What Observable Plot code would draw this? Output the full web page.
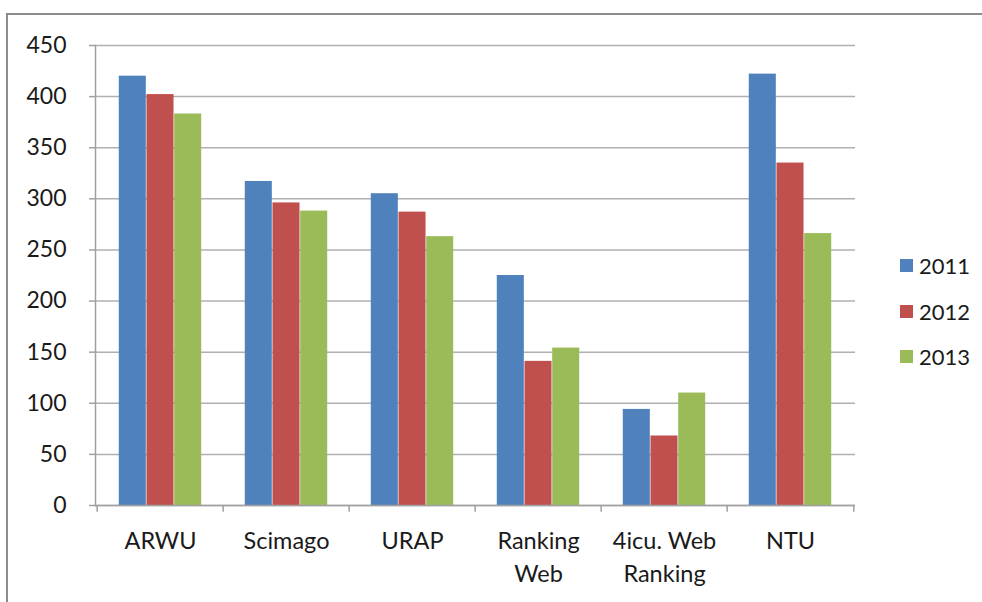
<!DOCTYPE html>
<html>
<head>
<meta charset="utf-8">
<script src="https://cdn.jsdelivr.net/npm/d3@7"></script>
<script src="https://cdn.jsdelivr.net/npm/@observablehq/plot@0.6"></script>
<style>
  html, body { margin: 0; padding: 0; background: #fff; }
  #wrap { position: relative; width: 982px; height: 602px; overflow: hidden; font-family: Lato, "Open Sans", sans-serif; }
  #border { position: absolute; left: 6px; top: 13px; width: 1000px; height: 700px; border-left: 2px solid #8c8c8c; border-top: 2px solid #8c8c8c; }
  #chart { position: absolute; left: 0; top: 0; }
  #legend { position: absolute; left: 900px; top: 243px; }
  .item { display: flex; align-items: center; height: 45.5px; font-size: 22px; color: #1a1a1a; }
  .sw { width: 13px; height: 13px; margin-right: 6px; }
</style>
</head>
<body>
<div id="wrap">
  <div id="border"></div>
  <div id="chart"></div>
  <div id="legend"></div>
</div>
<script>
const categories = ["ARWU", "Scimago", "URAP", "Ranking Web", "4icu. Web Ranking", "NTU"];
const tickLabels = ["ARWU", "Scimago", "URAP", "Ranking\nWeb", "4icu. Web\nRanking", "NTU"];
const years = ["2011", "2012", "2013"];
const values2011 = [420, 317, 305, 225, 94, 422];
const values2012 = [402, 296, 287, 141, 68, 335];
const values2013 = [383, 288, 263, 154, 110, 266];
const colors = ["#4F81BD", "#C0504D", "#9BBB59"];
const yTicks = [0, 50, 100, 150, 200, 250, 300, 350, 400, 450];

const series = [values2011, values2012, values2013];
const rows = years.map((y, j) => categories.map((c, i) => ({category: c, year: y, value: series[j][i]})));

const W = 982, H = 602, mL = 95, mR = 127, mT = 45, mB = 97;
const step = (W - mL - mR) / categories.length;
const barW = 27.7;
const labelMap = new Map(categories.map((c, i) => [c, tickLabels[i]]));

const barMarks = rows.map((data, j) => Plot.barY(data, {
  x: "category", y: "value", fill: colors[j],
  insetLeft: (step - barW) / 2, insetRight: (step - barW) / 2,
  dx: (j - 1) * barW
}));

const chart = Plot.plot({
  width: W, height: H,
  marginLeft: mL, marginRight: mR, marginTop: mT, marginBottom: mB,
  style: {fontFamily: "Lato, 'Open Sans', sans-serif", background: "transparent"},
  x: {type: "band", domain: categories, padding: 0},
  y: {domain: [0, 450]},
  marks: [
    Plot.ruleY(yTicks, {y: d => d, stroke: "#b0b0b0", strokeWidth: 1.5}),
    ...barMarks,
    Plot.ruleY([0], {stroke: "#a0a0a0", strokeWidth: 1.5}),
    Plot.frame({anchor: "left", stroke: "#a0a0a0", strokeWidth: 1.5}),
    Plot.ruleX(categories, {x: d => d, dx: -step / 2, y1: 0, y2: -6.5, stroke: "#a0a0a0", strokeWidth: 1.5}),
    Plot.ruleX(categories.slice(-1), {x: d => d, dx: step / 2, y1: 0, y2: -6.5, stroke: "#a0a0a0", strokeWidth: 1.5}),
    Plot.axisY({ticks: yTicks, tickSize: 6, tickPadding: 23, fontSize: 23, stroke: "#a0a0a0", strokeWidth: 1.5, color: "#1a1a1a", label: null}),
    Plot.axisX({tickSize: 0, tickPadding: 20, fontSize: 23.5, lineHeight: 1.4, tickFormat: d => labelMap.get(d), color: "#1a1a1a", label: null})
  ]
});
document.getElementById("chart").appendChild(chart);

const legend = document.getElementById("legend");
years.forEach((y, j) => {
  const row = document.createElement("div");
  row.className = "item";
  const sw = document.createElement("div");
  sw.className = "sw";
  sw.style.background = colors[j];
  const t = document.createElement("span");
  t.textContent = y;
  row.appendChild(sw);
  row.appendChild(t);
  legend.appendChild(row);
});
</script>
</body>
</html>
